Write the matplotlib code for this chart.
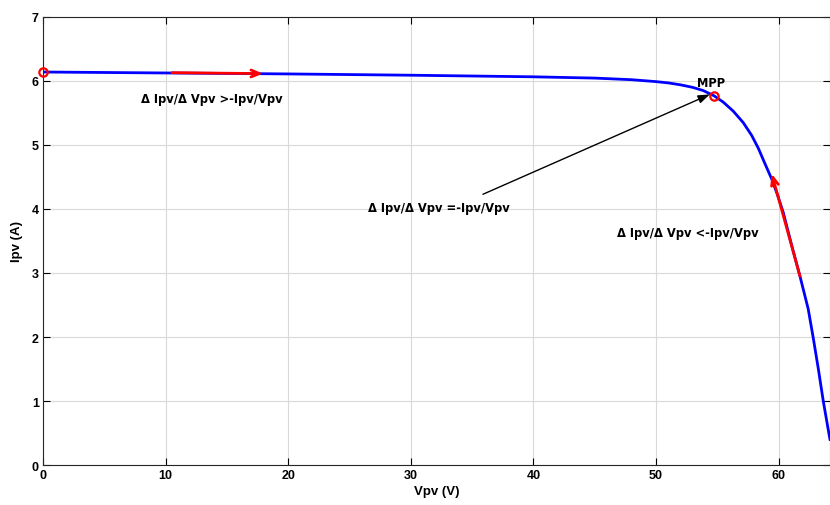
import matplotlib

matplotlib.use("Agg")
import matplotlib.pyplot as plt

vpv = [0, 10, 20, 30, 40, 45, 48, 50, 51, 52, 53, 53.86, 54.73, 55.49,
       56.30, 57.12, 57.81, 58.35, 58.89, 59.44, 59.90, 60.38, 61.05, 61.75,
       62.42, 62.83, 63.25, 63.65, 64.14, 64.2]
ipv = [6.14, 6.125, 6.11, 6.09, 6.065, 6.045, 6.02, 5.99, 5.97, 5.94, 5.90,
       5.85, 5.77, 5.67, 5.53, 5.35, 5.15, 4.95, 4.71, 4.47, 4.23, 3.95, 3.45,
       2.95, 2.44, 1.99, 1.50, 1.00, 0.46, 0.40]

mpp = (54.73, 5.77)
isc = (0.0, 6.14)

# incremental-conductance direction arrows: (start, end)
left_arrow = ((10.52, 6.13), (17.94, 6.115))
right_arrow = ((61.75, 2.95), (59.45, 4.55))
mpp_pointer = ((35.89, 4.23), (54.40, 5.79))

labels = [
    (13.78, 5.72, "\u0394 Ipv/\u0394 Vpv >-Ipv/Vpv"),
    (32.30, 4.03, "\u0394 Ipv/\u0394 Vpv =-Ipv/Vpv"),
    (52.60, 3.64, "\u0394 Ipv/\u0394 Vpv <-Ipv/Vpv"),
]

plt.rcParams["font.family"] = ["Liberation Sans", "DejaVu Sans"]

fig = plt.figure(figsize=(8.3, 5.06), dpi=100)
ax = fig.add_axes([0.0518, 0.079, 0.9482, 0.8855])

ax.plot(vpv, ipv, color="#0000ff", lw=2.0, zorder=3)

for (x0, y0), (x1, y1) in (left_arrow, right_arrow):
    ax.annotate("", xy=(x1, y1), xytext=(x0, y0),
                arrowprops=dict(arrowstyle="->,head_length=0.6,head_width=0.25",
                                color="#ff0000", lw=2.0, shrinkA=0, shrinkB=0),
                zorder=4)
(x0, y0), (x1, y1) = mpp_pointer
ax.annotate("", xy=(x1, y1), xytext=(x0, y0),
            arrowprops=dict(arrowstyle="-|>,head_length=0.7,head_width=0.25",
                            color="black", lw=1.0, shrinkA=0, shrinkB=0),
            zorder=4)

ax.plot(*mpp, "o", mfc="none", mec="#ff0000", mew=1.6, ms=6, zorder=5, clip_on=False)
ax.plot(*isc, "o", mfc="none", mec="#ff0000", mew=1.6, ms=6, zorder=5, clip_on=False)
ax.text(54.5, mpp[1] + 0.11, "MPP", ha="center", va="bottom",
        fontsize=8.3, fontweight="bold", family="DejaVu Sans")

for x, y, s in labels:
    ax.text(x, y, s, ha="center", va="center", fontsize=8.3, fontweight="bold",
            family="DejaVu Sans")

ax.set_xlim(0, 64.2)
ax.set_ylim(0, 7)
ax.set_xticks(range(0, 61, 10))
ax.set_yticks(range(0, 8))
ax.tick_params(direction="in", length=5, width=0.8, top=True, right=True,
               labelsize=9, pad=3)
for lab in ax.get_xticklabels() + ax.get_yticklabels():
    lab.set_fontweight("bold")
ax.grid(True, color="#d9d9d9", lw=0.8)
ax.set_axisbelow(True)
for sp in ax.spines.values():
    sp.set_color("#262626")
    sp.set_linewidth(0.8)

ax.set_xlabel("Vpv (V)", fontsize=9.5, fontweight="bold", labelpad=3)
ax.set_ylabel("Ipv (A)", fontsize=9.5, fontweight="bold", labelpad=6)

fig.savefig("out.png", dpi=100)
